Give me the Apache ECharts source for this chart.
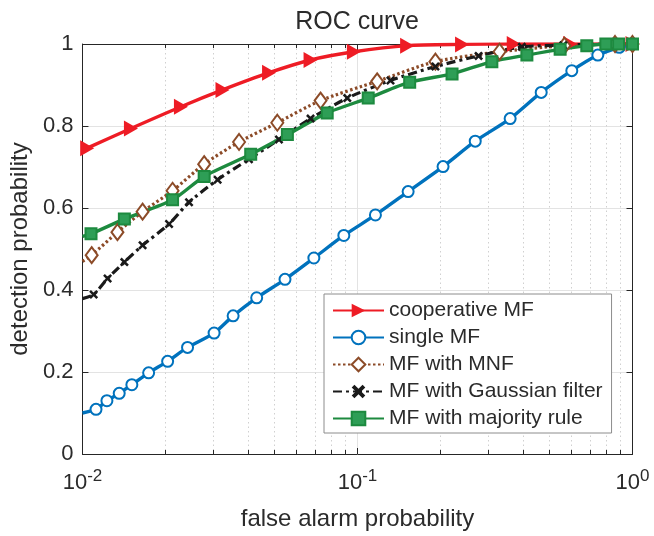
<!DOCTYPE html>
<html>
<head>
<meta charset="utf-8">
<script src="https://cdn.jsdelivr.net/npm/echarts@6/dist/echarts.min.js"></script>
<style>
html,body{margin:0;padding:0;background:#fff;}
#chart{width:654px;height:536px;}
</style>
</head>
<body>
<div id="chart"></div>
<script>
// ---- data ----
var titleText = 'ROC curve';
var xName = 'false alarm probability';
var yName = 'detection probability';
var seriesNames = ['cooperative MF', 'single MF', 'MF with MNF', 'MF with Gaussian filter', 'MF with majority rule'];

var coopX = [0.01, 0.0104, 0.015, 0.0228, 0.0323, 0.0477, 0.0675, 0.097, 0.1515, 0.24, 0.37, 0.593, 1.0];
var coopY = [0.742, 0.746, 0.794, 0.847, 0.888, 0.930, 0.961, 0.981, 0.996, 0.999, 1.0, 1.0, 1.0];

var singleX = [0.01, 0.0112, 0.01227, 0.0136, 0.01512, 0.0174, 0.0204, 0.0241, 0.0301, 0.0353, 0.043, 0.0545, 0.0694, 0.0892, 0.1162, 0.1528, 0.2047, 0.268, 0.359, 0.4656, 0.6016, 0.748, 0.895, 1.0];
var singleY = [0.100, 0.109, 0.130, 0.148, 0.169, 0.198, 0.226, 0.260, 0.295, 0.337, 0.381, 0.426, 0.478, 0.533, 0.583, 0.640, 0.701, 0.763, 0.818, 0.882, 0.935, 0.973, 0.992, 1.0];

var mnfX = [0.01, 0.0108, 0.0134, 0.01654, 0.02126, 0.0277, 0.0371, 0.0511, 0.0734, 0.1179, 0.192, 0.3285, 0.5656, 0.864, 1.0];
var mnfY = [0.470, 0.485, 0.541, 0.591, 0.642, 0.707, 0.761, 0.808, 0.862, 0.909, 0.957, 0.981, 0.996, 1.0, 1.0];

var gaussX = [0.01, 0.01098, 0.01234, 0.0142, 0.01654, 0.02065, 0.0244, 0.031, 0.0403, 0.0518, 0.0675, 0.0918, 0.1318, 0.192, 0.2756, 0.396, 0.56, 0.79, 1.0];
var gaussY = [0.379, 0.389, 0.428, 0.468, 0.509, 0.561, 0.614, 0.669, 0.719, 0.767, 0.818, 0.868, 0.911, 0.945, 0.971, 0.993, 0.997, 1.0, 1.0];

var majX = [0.01, 0.01074, 0.0142, 0.02126, 0.0277, 0.0409, 0.0556, 0.0776, 0.1094, 0.1548, 0.2207, 0.308, 0.413, 0.5456, 0.682, 0.8, 0.89, 1.0];
var majY = [0.531, 0.537, 0.573, 0.620, 0.677, 0.731, 0.779, 0.832, 0.868, 0.907, 0.927, 0.957, 0.973, 0.987, 0.996, 1.0, 1.0, 1.0];

var xMin = 0.01, xMax = 1;
var xMinorTicks = [0.02, 0.03, 0.04, 0.05, 0.06, 0.07, 0.08, 0.09, 0.2, 0.3, 0.4, 0.5, 0.6, 0.7, 0.8, 0.9];
var yTicks = [0, 0.2, 0.4, 0.6, 0.8, 1];

// ---- build ----
function pairs(xs, ys) { return xs.map(function (x, i) { return [x, ys[i]]; }); }
function sizeFn(s) { return function (v, p) { return p.dataIndex === 0 ? 0 : s; }; }

var txt = '#2b2b2b';
var axisCol = '#262626';
var FF = 'Liberation Sans, Arial, sans-serif';
var grid = { left: 81.5, right: 21.5, top: 44, bottom: 79.5, containLabel: false };

var chart = echarts.init(document.getElementById('chart'), null, { renderer: 'canvas' });

var commonX = { type: 'log', logBase: 10, min: xMin, max: xMax, gridIndex: 0 };

var option = {
  animation: false,
  backgroundColor: '#fff',
  textStyle: { fontFamily: FF },
  title: {
    text: titleText, left: 357, top: 10, textAlign: 'center', padding: 0,
    textStyle: { fontSize: 25, fontWeight: 'normal', color: txt, fontFamily: FF }
  },
  grid: grid,
  legend: {
    orient: 'vertical', left: 324, top: 294,
    padding: [6, 9, 4, 8],
    itemWidth: 51, itemHeight: 17, itemGap: 6.0,
    borderColor: '#8c8c8c', borderWidth: 1, backgroundColor: '#fff',
    textStyle: { fontSize: 21, color: txt, lineHeight: 21, fontFamily: FF },
    data: seriesNames, z: 10
  },
  xAxis: [
    Object.assign({}, commonX, {
      position: 'bottom',
      name: xName, nameLocation: 'middle', nameGap: 53,
      nameTextStyle: { fontSize: 24, color: txt, fontFamily: FF },
      axisLine: { show: true, lineStyle: { color: axisCol, width: 1 } },
      axisTick: { show: true, inside: true, length: 6, lineStyle: { color: axisCol } },
      axisLabel: {
        margin: 14, color: txt,
        formatter: function (v) { return '{b|10}{s|' + Math.round(Math.log10(v)) + '}'; },
        rich: {
          b: { fontSize: 22, color: txt, fontFamily: FF },
          s: { fontSize: 17, color: txt, padding: [0, 0, 12, 0], fontFamily: FF }
        }
      },
      splitLine: { show: true, lineStyle: { color: '#e3e3e3', width: 1 } }
    }),
    Object.assign({}, commonX, {
      position: 'bottom',
      axisLine: { show: false }, axisLabel: { show: false },
      axisTick: { show: true, inside: true, length: 4, customValues: xMinorTicks, lineStyle: { color: axisCol } },
      splitLine: { show: true, lineStyle: { color: '#d0d0d0', width: 1, type: [1.5, 3] } }
    }),
    Object.assign({}, commonX, {
      position: 'top',
      axisLine: { show: true, lineStyle: { color: axisCol, width: 1 } }, axisLabel: { show: false },
      axisTick: { show: true, inside: true, length: 6, lineStyle: { color: axisCol } },
      splitLine: { show: false }
    }),
    Object.assign({}, commonX, {
      position: 'top',
      axisLine: { show: false }, axisLabel: { show: false },
      axisTick: { show: true, inside: true, length: 4, customValues: xMinorTicks, lineStyle: { color: axisCol } },
      splitLine: { show: false }
    })
  ],
  yAxis: [
    {
      type: 'value', min: 0, max: 1, interval: 0.2, position: 'left',
      name: yName, nameLocation: 'middle', nameGap: 48,
      nameTextStyle: { fontSize: 24, color: txt, fontFamily: FF },
      axisLine: { show: true, lineStyle: { color: axisCol, width: 1 } },
      axisTick: { show: true, inside: true, length: 6, lineStyle: { color: axisCol } },
      axisLabel: { margin: 9, fontSize: 22, color: txt, fontFamily: FF,
        formatter: function (v) { return String(+v.toFixed(1)); } },
      splitLine: { show: true, lineStyle: { color: '#e3e3e3', width: 1 } }
    },
    {
      type: 'value', min: 0, max: 1, interval: 0.2, position: 'right',
      axisLine: { show: true, lineStyle: { color: axisCol, width: 1 } },
      axisTick: { show: true, inside: true, length: 6, lineStyle: { color: axisCol } },
      axisLabel: { show: false }, splitLine: { show: false }
    }
  ],
  series: [
    {
      name: seriesNames[0], type: 'line', data: pairs(coopX, coopY), smooth: 0.25,
      symbol: 'triangle', symbolRotate: -90, symbolSize: sizeFn([16, 14]),
      lineStyle: { color: '#EE1C25', width: 3.4 },
      itemStyle: { color: '#EE1C25' }
    },
    {
      name: seriesNames[1], type: 'line', data: pairs(singleX, singleY), smooth: 0.25,
      symbol: 'emptyCircle', symbolSize: sizeFn(11),
      lineStyle: { color: '#0072BD', width: 3.4 },
      itemStyle: { color: '#0072BD', borderWidth: 3 }
    },
    {
      name: seriesNames[2], type: 'line', data: pairs(mnfX, mnfY), smooth: 0.25,
      symbol: 'emptyDiamond', symbolSize: sizeFn([12, 16]),
      lineStyle: { color: '#8C4B28', width: 3.2, type: [2.5, 2.5] },
      itemStyle: { color: '#8C4B28', borderWidth: 3 }
    },
    {
      name: seriesNames[3], type: 'line', data: pairs(gaussX, gaussY), smooth: 0.25,
      symbol: 'path://M2,0 L5,3 L8,0 L10,2 L7,5 L10,8 L8,10 L5,7 L2,10 L0,8 L3,5 L0,2 Z', symbolSize: sizeFn(9),
      lineStyle: { color: '#1a1a1a', width: 3.2, type: [9, 4, 3, 4] },
      itemStyle: { color: '#1a1a1a' }
    },
    {
      name: seriesNames[4], type: 'line', data: pairs(majX, majY), smooth: 0.25,
      symbol: 'rect', symbolSize: sizeFn(11),
      lineStyle: { color: '#1D8A3F', width: 3.4 },
      itemStyle: { color: '#2E9E56', borderColor: '#1D8A3F', borderWidth: 2 }
    }
  ]
};
chart.setOption(option);
</script>
</body>
</html>
